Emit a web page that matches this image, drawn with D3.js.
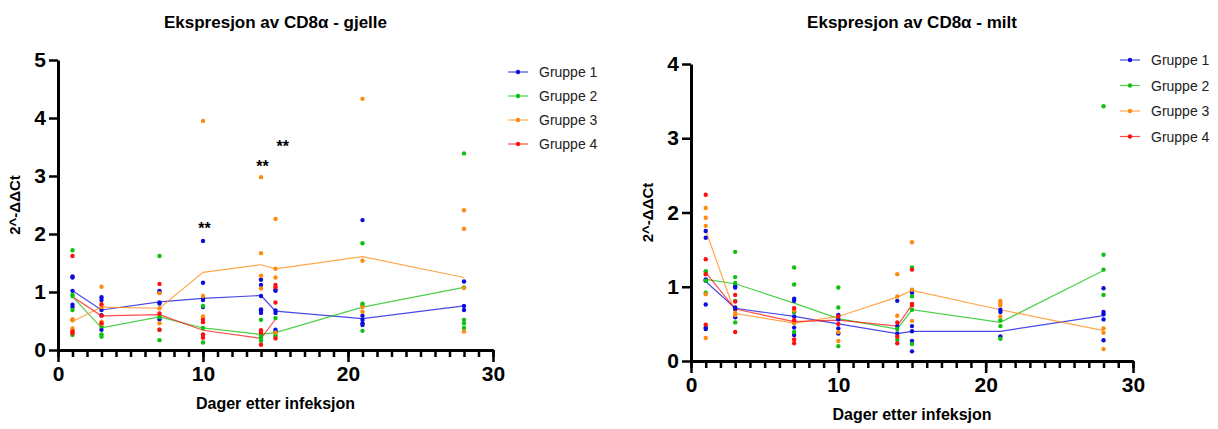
<!DOCTYPE html>
<html>
<head>
<meta charset="utf-8">
<script src="https://cdn.jsdelivr.net/npm/d3@7"></script>
<style>
  body { margin: 0; background: #fff; }
  svg { font-family: "Liberation Sans", Arial, sans-serif; }
</style>
</head>
<body>
<div id="chart"></div>
<script>
// sampling days
const days = [1, 3, 7, 10, 14, 15, 21, 28];
const groups = ['Gruppe 1', 'Gruppe 2', 'Gruppe 3', 'Gruppe 4'];
const xTicks = [0, 10, 20, 30];

// gjelle - individual fish, one list per day
const gjelleG1 = [[1.27, 1.25, 1.02, 0.78, 0.74], [0.91, 0.86, 0.69, 0.60, 0.35], [1.02, 0.99, 0.82, 0.80, 0.53], [1.88, 1.16, 0.89, 0.86, 0.74], [1.21, 1.12, 0.93, 0.70, 0.68, 0.64], [1.04, 1.02, 0.68, 0.64, 0.35, 0.32], [2.24, 0.59, 0.52, 0.46, 0.43], [1.18, 0.76, 0.69]];
const gjelleG2 = [[1.72, 0.95, 0.93, 0.69, 0.26], [0.41, 0.27, 0.23], [1.62, 0.57, 0.35, 0.17], [0.76, 0.38, 0.26, 0.13], [0.52, 0.28, 0.25, 0.22, 0.19, 0.16], [0.55, 0.30, 0.26, 0.23], [1.84, 0.80, 0.77, 0.33], [3.39, 1.08, 0.52, 0.46, 0.38]];
const gjelleG3 = [[0.53, 0.51, 0.37, 0.33], [1.09, 0.74, 0.49, 0.45], [0.98, 0.72, 0.46], [3.95, 0.93, 0.58, 0.55], [2.98, 1.67, 1.28, 1.06, 0.31], [2.26, 1.40, 1.25, 0.30], [4.33, 1.54, 0.74, 0.66], [2.41, 2.09, 1.07, 0.32]];
const gjelleG4 = [[1.62, 0.32, 0.29], [0.79, 0.59, 0.46], [1.14, 0.63, 0.35], [0.52, 0.48, 0.27, 0.21], [0.34, 0.30, 0.09], [1.12, 1.08, 0.82, 0.20]];

// gjelle - group means (lines)
const gjelleMean1 = [1.02, 0.69, 0.83, 0.89, 0.94, 0.67, 0.54, 0.76];
const gjelleMean2 = [0.92, 0.38, 0.57, 0.38, 0.27, 0.30, 0.74, 1.08];
const gjelleMean3 = [0.49, 0.74, 0.72, 1.34, 1.47, 1.40, 1.61, 1.25];
const gjelleMean4 = [0.92, 0.59, 0.61, 0.34, 0.20, 0.53];

// significance marks on gjelle
const gjelleStars = [[10.1, 2.13], [14.1, 3.2], [15.5, 3.55]];

// milt
const miltG1 = [[1.75, 1.66, 1.10, 1.08, 0.76, 0.45, 0.43], [1.01, 0.99, 0.72, 0.70, 0.59], [0.84, 0.81, 0.66, 0.60, 0.45, 0.35], [0.62, 0.56, 0.44, 0.37], [0.81, 0.47, 0.37], [0.92, 0.47, 0.40, 0.27, 0.13], [0.69, 0.66, 0.33], [0.98, 0.66, 0.63, 0.56, 0.28]];
const miltG2 = [[1.21, 1.20, 1.08, 0.92], [1.47, 1.13, 1.05, 0.81, 0.52], [1.26, 1.03, 0.66, 0.39], [0.99, 0.72, 0.20], [0.43, 0.29], [1.26, 0.87, 0.69, 0.23], [0.55, 0.47, 0.30], [3.43, 1.43, 1.23, 0.89]];
const miltG3 = [[2.06, 1.93, 1.82, 0.90, 0.31], [0.65, 0.62], [0.68, 0.51], [0.39, 0.27], [1.17, 0.87, 0.61], [1.60, 0.96, 0.54], [0.81, 0.78, 0.75, 0.60], [0.44, 0.38, 0.16]];
const miltG4 = [[2.24, 1.37, 1.17, 0.49], [0.89, 0.80, 0.39], [0.71, 0.55, 0.29, 0.24], [0.60, 0.50], [0.52, 0.33, 0.24], [1.23, 0.77, 0.75]];

const miltMean1 = [1.07, 0.71, 0.60, 0.50, 0.37, 0.40, 0.40, 0.61];
const miltMean2 = [1.10, 1.04, 0.78, 0.57, 0.43, 0.69, 0.52, 1.22];
const miltMean3 = [1.76, 0.64, 0.51, 0.60, 0.86, 0.95, 0.69, 0.41];
const miltMean4 = [1.19, 0.70, 0.53, 0.55, 0.47, 0.76];

const colors = ['#0c0cdc', '#10c010', '#ff8a10', '#ff1010'];

const svg = d3.select('#chart')
  .append('svg')
  .attr('width', 1218)
  .attr('height', 429);

function panel(opt) {
  let x = d3.scaleLinear().domain([0, 30]).range([opt.left, opt.right]);
  let y = d3.scaleLinear().domain([0, opt.yMax]).range([opt.bottom, opt.top]);
  let g = svg.append('g');

  // title
  g.append('text')
    .attr('x', (opt.left + opt.right) / 2)
    .attr('y', 28)
    .attr('text-anchor', 'middle')
    .style('font-size', '17px')
    .style('font-weight', 'bold')
    .text(opt.title);

  // mean lines
  let line = d3.line()
    .x((d, i) => x(days[i]))
    .y(d => y(d));

  opt.means.forEach((m, k) => {
    g.append('path')
      .attr('d', line(m))
      .attr('fill', 'none')
      .attr('stroke', colors[k])
      .attr('stroke-opacity', 0.75)
      .attr('stroke-width', 1.2);
  });

  // individual points
  opt.points.forEach((grp, k) => {
    let pts = [];
    grp.forEach((vals, i) => vals.forEach(v => pts.push([days[i], v])));
    g.selectAll('.p' + k)
      .data(pts)
      .enter()
      .append('circle')
      .attr('cx', d => x(d[0]))
      .attr('cy', d => y(d[1]))
      .attr('r', 2.2)
      .attr('fill', colors[k]);
  });

  // stars
  (opt.stars || []).forEach(s => {
    g.append('text')
      .attr('x', x(s[0]))
      .attr('y', y(s[1]) + 8)
      .attr('text-anchor', 'middle')
      .style('font-size', '16px')
      .style('font-weight', 'bold')
      .text('**');
  });

  // y axis
  g.append('g')
    .attr('transform', 'translate(' + opt.left + ',0)')
    .call(d3.axisLeft(y).ticks(opt.yMax).tickFormat(d3.format('d')).tickSize(9).tickSizeOuter(0).tickPadding(3));

  // x axis - minor ticks
  g.append('g')
    .attr('transform', 'translate(0,' + opt.bottom + ')')
    .call(d3.axisBottom(x).tickValues(d3.range(0, 31)).tickFormat('').tickSize(7).tickSizeOuter(0));

  g.append('g')
    .attr('transform', 'translate(0,' + opt.bottom + ')')
    .call(d3.axisBottom(x).tickValues(xTicks).tickSize(12).tickSizeOuter(0).tickPadding(4));

  g.selectAll('.domain').attr('stroke', '#000').attr('stroke-width', 3);
  g.selectAll('.tick line').attr('stroke', '#000').attr('stroke-width', 2.5);
  g.selectAll('.tick text')
    .attr('fill', '#000')
    .style('font-family', '"Liberation Sans", Arial, sans-serif')
    .style('font-size', '21px')
    .style('font-weight', 'bold');

  // axis titles
  g.append('text')
    .attr('x', (opt.left + opt.right) / 2)
    .attr('y', opt.bottom + 59)
    .attr('text-anchor', 'middle')
    .style('font-size', '16px')
    .style('font-weight', 'bold')
    .text('Dager etter infeksjon');

  g.append('text')
    .attr('transform', 'translate(' + (opt.left - 38) + ',' + ((opt.top + opt.bottom) / 2) + ') rotate(-90)')
    .attr('text-anchor', 'middle')
    .style('font-size', '15px')
    .style('font-weight', 'bold')
    .text('2^-\u0394\u0394Ct');

  // legend
  groups.forEach((name, k) => {
    let ly = opt.legY + k * opt.legStep;
    g.append('line')
      .attr('x1', opt.legX).attr('x2', opt.legX + 20)
      .attr('y1', ly).attr('y2', ly)
      .attr('stroke', colors[k])
      .attr('stroke-opacity', 0.75)
      .attr('stroke-width', 1.2);
    g.append('circle')
      .attr('cx', opt.legX + 10).attr('cy', ly).attr('r', 2.2)
      .attr('fill', colors[k]);
    g.append('text')
      .attr('x', opt.legX + 31)
      .attr('y', ly + 5)
      .style('font-size', '14px')
      .attr('fill', '#222')
      .text(name);
  });
}

panel({
  title: 'Ekspresjon av CD8\u03b1 - gjelle',
  left: 58, right: 493, top: 60, bottom: 350, yMax: 5,
  points: [gjelleG1, gjelleG2, gjelleG3, gjelleG4],
  means: [gjelleMean1, gjelleMean2, gjelleMean3, gjelleMean4],
  stars: gjelleStars,
  legX: 508, legY: 72, legStep: 24
});

panel({
  title: 'Ekspresjon av CD8\u03b1 - milt',
  left: 691, right: 1133, top: 64, bottom: 361, yMax: 4,
  points: [miltG1, miltG2, miltG3, miltG4],
  means: [miltMean1, miltMean2, miltMean3, miltMean4],
  legX: 1120, legY: 60, legStep: 25.5
});
</script>
</body>
</html>
